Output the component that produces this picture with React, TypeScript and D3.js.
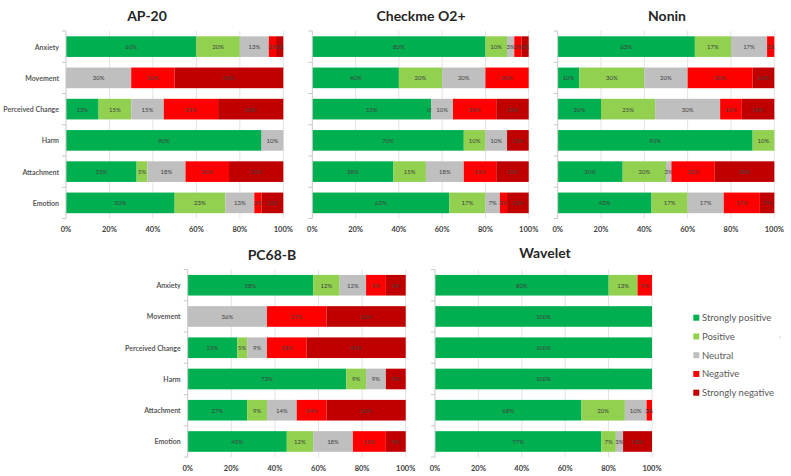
import React from "react";
import * as d3 from "d3";

const categories = ["Anxiety", "Movement", "Perceived Change", "Harm", "Attachment", "Emotion"];
const seriesNames = ["Strongly positive", "Positive", "Neutral", "Negative", "Strongly negative"];
const seriesColors = ["#00B050", "#92D050", "#BFBFBF", "#FF0000", "#C00000"];
const xTicks = [0, 20, 40, 60, 80, 100];

type Row = (number | null)[];

// rows follow categories; columns follow seriesNames (null = blank, no label)
const ap20: Row[] = [
  [60, 20, 13.33, 3.33, 3.33],
  [null, null, 30, 20, 50],
  [15, 15, 15, 25, 30],
  [90, null, 10, null, null],
  [32.5, 5, 17.5, 20, 25],
  [50, 23.33, 13.33, 3.33, 10],
];
const checkme: Row[] = [
  [80, 10, 3.33, 3.33, 3.33],
  [40, 20, 20, 20, null],
  [55, 0, 10, 20, 15],
  [70, 10, 10, null, 10],
  [37.5, 15, 17.5, 15, 15],
  [63.33, 16.67, 6.67, 3.33, 10],
];
const nonin: Row[] = [
  [63.33, 16.67, 16.67, 3.33, null],
  [10, 30, 20, 30, 10],
  [20, 25, 30, 10, 15],
  [90, 10, null, null, null],
  [30, 20, 2.5, 20, 27.5],
  [43.33, 16.67, 16.67, 16.67, 6.66],
];
const pc68b: Row[] = [
  [57.58, 12.12, 12.12, 9.09, 9.09],
  [null, null, 36.36, 27.27, 36.37],
  [22.73, 4.55, 9.09, 18.18, 45.45],
  [72.73, 9.09, 9.09, null, 9.09],
  [27.27, 9.09, 13.64, 13.64, 36.36],
  [45.45, 12.12, 18.18, 15.15, 9.1],
];
const wavelet: Row[] = [
  [80, 13.33, null, 6.67, null],
  [100, null, null, null, null],
  [100, null, null, null, null],
  [100, null, null, null, null],
  [67.5, 20, 10, 2.5, null],
  [76.67, 6.67, 3.33, null, 13.33],
];

const FONT = "Lato, 'Open Sans', sans-serif";

type PanelProps = {
  title: string;
  values: Row[];
  x0: number;
  x1: number;
  top: number;
  titleX: number;
  titleY: number;
  showCats: boolean;
};

function Panel({ title, values, x0, x1, top, titleX, titleY, showCats }: PanelProps) {
  const H = 187.5;
  const x = d3.scaleLinear().domain([0, 100]).range([x0, x1]);
  const y = d3
    .scaleBand<string>()
    .domain(categories)
    .range([top, top + H])
    .paddingInner(0.34)
    .paddingOuter(0.17);
  const step = y.step();
  const keys = [0, 1, 2, 3, 4].map(String);
  const table = values.map((r, i) => ({ cat: categories[i], row: r }));
  const stack = d3
    .stack<any, string>()
    .keys(keys)
    .value((d: any, k: string) => d.row[+k] ?? 0);
  const layers = stack(table);
  const bottom = top + H;

  return (
    <g>
      <text
        x={titleX}
        y={titleY}
        textAnchor="middle"
        dominantBaseline="central"
        fontFamily={FONT}
        fontWeight={700}
        fontSize={14}
        fill="#262626"
      >
        {title}
      </text>
      {xTicks.slice(1).map((t) => (
        <line key={t} x1={x(t)} x2={x(t)} y1={top} y2={bottom} stroke="#E3E3E3" strokeWidth={1} />
      ))}
      {layers.map((layer, si) => (
        <g key={si}>
          {layer.map((seg, ci) => {
            const v = values[ci][si];
            if (v === null) return null;
            const xa = x(seg[0]);
            const xb = x(seg[1]);
            const yc = (y(categories[ci]) as number) + y.bandwidth() / 2;
            return (
              <g key={ci}>
                {xb - xa > 0 && (
                  <rect
                    x={xa}
                    y={y(categories[ci]) as number}
                    width={xb - xa}
                    height={y.bandwidth()}
                    fill={seriesColors[si]}
                  />
                )}
                <text
                  x={(xa + xb) / 2}
                  y={yc}
                  textAnchor="middle"
                  dominantBaseline="central"
                  fontFamily={FONT}
                  fontSize={6}
                  fill="#404040"
                >
                  {Math.round(v) + "%"}
                </text>
              </g>
            );
          })}
        </g>
      ))}
      <line x1={x0} x2={x0} y1={top} y2={bottom} stroke="#C8C8C8" strokeWidth={1} />
      {d3.range(categories.length + 1).map((i) => (
        <line
          key={i}
          x1={x0 - 4}
          x2={x0}
          y1={top + i * step}
          y2={top + i * step}
          stroke="#C8C8C8"
          strokeWidth={1}
        />
      ))}
      {showCats &&
        categories.map((c) => (
          <text
            key={c}
            x={x0 - 7}
            y={(y(c) as number) + y.bandwidth() / 2}
            textAnchor="end"
            dominantBaseline="central"
            fontFamily={FONT}
            fontWeight={700}
            fontSize={7}
            fill="#595959"
          >
            {c}
          </text>
        ))}
      {xTicks.map((t) => (
        <text
          key={t}
          x={x(t)}
          y={bottom + 11}
          textAnchor="middle"
          dominantBaseline="central"
          fontFamily={FONT}
          fontWeight={700}
          fontSize={7.5}
          fill="#404040"
        >
          {t + "%"}
        </text>
      ))}
    </g>
  );
}

export default function App() {
  return (
    <svg
      width={791}
      height={476}
      style={{ position: "absolute", left: 0, top: 0, background: "#fff" }}
    >
      <rect x={0} y={0} width={791} height={476} fill="#fff" />
      <Panel title="AP-20" values={ap20} x0={66} x1={283.3} top={31} titleX={147} titleY={15} showCats />
      <Panel title="Checkme O2+" values={checkme} x0={312.3} x1={528.7} top={31} titleX={421} titleY={15} showCats={false} />
      <Panel title="Nonin" values={nonin} x0={557.7} x1={774.3} top={31} titleX={667} titleY={15} showCats={false} />
      <Panel title="PC68-B" values={pc68b} x0={187.7} x1={405.7} top={269.6} titleX={272} titleY={254} showCats />
      <Panel title="Wavelet" values={wavelet} x0={435} x1={652} top={269.6} titleX={545} titleY={252} showCats={false} />
      {seriesNames.map((s, i) => (
        <g key={s}>
          <rect x={693.3} y={314.7 + i * 18.75} width={6} height={6} fill={seriesColors[i]} />
          <text
            x={702}
            y={317.7 + i * 18.75}
            dominantBaseline="central"
            fontFamily={FONT}
            fontSize={9.5}
            fill="#595959"
          >
            {s}
          </text>
        </g>
      ))}
      <rect x={779.5} y={336} width={1} height={3} fill="#D9D9D9" />
    </svg>
  );
}
